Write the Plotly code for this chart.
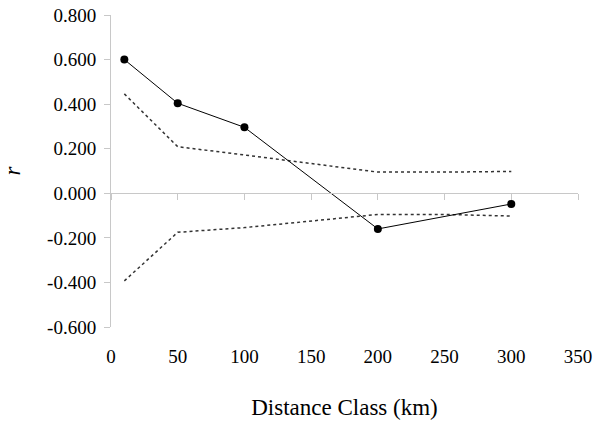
import plotly.graph_objects as go

# Mantel correlogram: observed r per distance class and the 95% envelope
distance = [10, 50, 100, 200, 300]
r_obs = [0.600, 0.404, 0.296, -0.160, -0.048]

env_x = [10, 50, 100, 150, 200, 250, 300]
env_upper = [0.446, 0.209, 0.172, 0.132, 0.095, 0.095, 0.098]
env_lower = [-0.393, -0.175, -0.154, -0.125, -0.095, -0.095, -0.102]

y_ticks = [-0.6, -0.4, -0.2, 0.0, 0.2, 0.4, 0.6, 0.8]
y_tick_labels = ["-0.600", "-0.400", "-0.200", "0.000", "0.200", "0.400", "0.600", "0.800"]
x_ticks = [0, 50, 100, 150, 200, 250, 300, 350]

FONT = "Times New Roman"
AXIS_GRAY = "#c8c8c8"

fig = go.Figure()

for env in (env_upper, env_lower):
    fig.add_trace(go.Scatter(
        x=env_x, y=env,
        mode="lines",
        line=dict(color="#333333", width=1.5, dash="dot"),
        showlegend=False,
    ))

fig.add_trace(go.Scatter(
    x=distance, y=r_obs,
    mode="lines+markers",
    line=dict(color="black", width=1),
    marker=dict(size=8, color="black"),
    showlegend=False,
))

# invisible trace so the zero-line axis with ticks gets drawn
fig.add_trace(go.Scatter(x=[0, 350], y=[0, 0], xaxis="x2", mode="lines",
                         line=dict(width=0), hoverinfo="skip", showlegend=False))

y_min, y_max = -0.6, 0.8

fig.update_layout(
    width=600, height=427,
    margin=dict(l=111, r=22, t=15, b=100, autoexpand=False),
    paper_bgcolor="white",
    plot_bgcolor="white",
    font=dict(family=FONT, size=19, color="black"),
    xaxis=dict(
        range=[0, 350],
        tickvals=x_ticks,
        showline=False, showgrid=False, zeroline=False,
        ticks="", ticklabelstandoff=16,
        tickfont=dict(family=FONT, size=19),
        automargin=False,
        title=dict(text="Distance Class (km)", font=dict(family=FONT, size=23), standoff=32),
    ),
    xaxis2=dict(
        range=[0, 350],
        tickvals=x_ticks,
        overlaying="x",
        anchor="free",
        position=(0 - y_min) / (y_max - y_min),
        side="bottom",
        showline=True, linecolor=AXIS_GRAY, linewidth=1,
        ticks="outside", ticklen=6, tickcolor=AXIS_GRAY,
        showticklabels=False, showgrid=False, zeroline=False,
    ),
    yaxis=dict(
        range=[y_min, y_max],
        tickvals=y_ticks,
        ticktext=y_tick_labels,
        showline=True, linecolor=AXIS_GRAY, linewidth=1,
        ticks="outside", ticklen=6, tickcolor=AXIS_GRAY,
        ticklabelstandoff=4,
        showgrid=False, zeroline=False,
        tickfont=dict(family=FONT, size=19),
        automargin=False,
        title=dict(text="<i>r</i>", font=dict(family=FONT, size=23), standoff=20),
    ),
)

# the page body has a default 8px margin; drop it so the figure sits at 0,0
fig.write_html("out.html", config={"displayModeBar": False},
               post_script="document.body.style.margin = '0';")
